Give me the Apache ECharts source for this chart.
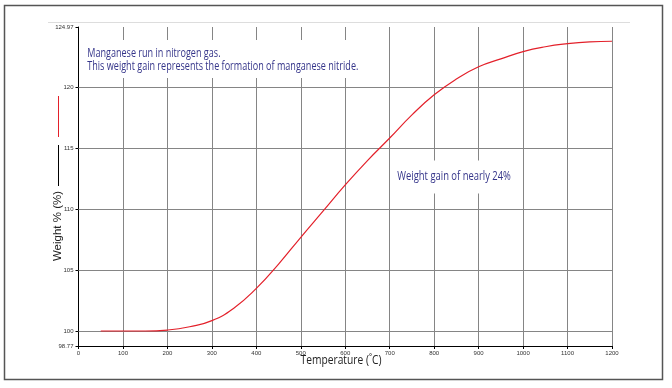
<!DOCTYPE html>
<html><head><meta charset="utf-8">
<script src="https://cdn.jsdelivr.net/npm/echarts@6/dist/echarts.min.js"></script>
<style>html,body{margin:0;padding:0;background:#fff}#c{width:672px;height:388px}</style>
</head><body><div id="c"></div>
<script>
const temperatures = [50,100,150,200,250,300,350,400,450,500,550,600,650,700,750,800,850,900,950,1000,1050,1100,1150,1200];
const weights = [100.0,100.0,100.0,100.08,100.35,100.85,101.9,103.5,105.5,107.7,109.85,112.0,114.0,115.85,117.75,119.4,120.7,121.7,122.35,122.95,123.35,123.6,123.75,123.8];
const yTickValues = [98.77,100,105,110,115,120,124.97];
const yGridValues = [100,105,110,115,120];
const xAxisName = 'Temperature (˚C)';
const yAxisName = 'Weight % (%)';
const noteLines = ['Manganese run in nitrogen gas.', 'This weight gain represents the formation of manganese nitride.'];
const gainNote = 'Weight gain of nearly 24%';

const HUM = '"Open Sans","Noto Sans",sans-serif';
const chart = echarts.init(document.getElementById('c'), null, {renderer: 'canvas'});
chart.setOption({
  animation: false,
  backgroundColor: '#fff',
  grid: {left: 78.5, right: 60, top: 27, bottom: 42, containLabel: false, outerBoundsMode: 'none'},
  xAxis: {
    type: 'value', min: 0, max: 1200, interval: 100,
    axisLine: {lineStyle: {color: '#000', width: 1}},
    axisTick: {show: true, length: 3, lineStyle: {color: '#000'}},
    axisLabel: {fontSize: 6, color: '#333', margin: 4, fontFamily: 'Liberation Sans', formatter: v => String(v)},
    splitLine: {show: true, lineStyle: {color: '#858585', width: 1}}
  },
  yAxis: {
    type: 'value', min: 98.77, max: 124.97,
    axisLine: {show: true, lineStyle: {color: '#000', width: 1}},
    axisTick: {show: true, length: 3, lineStyle: {color: '#000'}, customValues: yTickValues},
    axisLabel: {fontSize: 6, color: '#333', margin: 5, fontFamily: 'Liberation Sans', customValues: yTickValues, showMinLabel: true, showMaxLabel: true, formatter: v => String(v)},
    splitLine: {show: false}
  },
  series: [
    {
      type: 'line', z: 1, data: [], silent: true,
      markLine: {
        silent: true, symbol: ['none', 'none'], animation: false,
        label: {show: false},
        lineStyle: {color: '#858585', width: 1, type: 'solid'},
        emphasis: {disabled: true},
        data: yGridValues.map(v => ({yAxis: v}))
      }
    },
    {
      type: 'line', z: 5,
      data: temperatures.map((t, i) => [t, weights[i]]),
      showSymbol: false, smooth: 0.5,
      lineStyle: {color: '#e3202a', width: 1.2},
      itemStyle: {color: '#e3202a'}
    }
  ],
  graphic: [
    {type: 'rect', z: 50, shape: {x: 4.5, y: 5.5, width: 658, height: 374}, style: {fill: 'none', stroke: '#555', lineWidth: 1.5}},
    {type: 'line', z: 50, shape: {x1: 48, y1: 22.5, x2: 630, y2: 22.5}, style: {stroke: '#ddd', lineWidth: 1}},
    {type: 'line', z: 50, shape: {x1: 58.5, y1: 96, x2: 58.5, y2: 137}, style: {stroke: '#e3202a', lineWidth: 1}},
    {type: 'line', z: 50, shape: {x1: 58.5, y1: 145, x2: 58.5, y2: 186}, style: {stroke: '#000', lineWidth: 1}},
    {type: 'text', z: 50, x: 58, y: 226, rotation: Math.PI / 2,
      style: {text: yAxisName, fill: '#222', font: '11.5px "Liberation Sans", Arial, sans-serif', textAlign: 'center', textVerticalAlign: 'middle'}},
    {type: 'text', z: 50, x: 341, y: 360.5, scaleX: 0.82,
      style: {text: xAxisName, fill: '#222', font: '12.5px ' + HUM, textAlign: 'center', textVerticalAlign: 'middle'}},
    {type: 'text', z: 100, x: 85, y: 40, scaleX: 0.755,
      style: {text: noteLines.join('\n'), fill: '#35358a', font: '12px ' + HUM, lineHeight: 13, backgroundColor: '#fff', padding: [7, 3, 5, 3], textVerticalAlign: 'top'}},
    {type: 'text', z: 100, x: 395, y: 160.5, scaleX: 0.785,
      style: {text: gainNote, fill: '#35358a', font: '12px ' + HUM, lineHeight: 13, backgroundColor: '#fff', padding: [10, 3, 10, 3], textVerticalAlign: 'top'}}
  ]
});
</script></body></html>
